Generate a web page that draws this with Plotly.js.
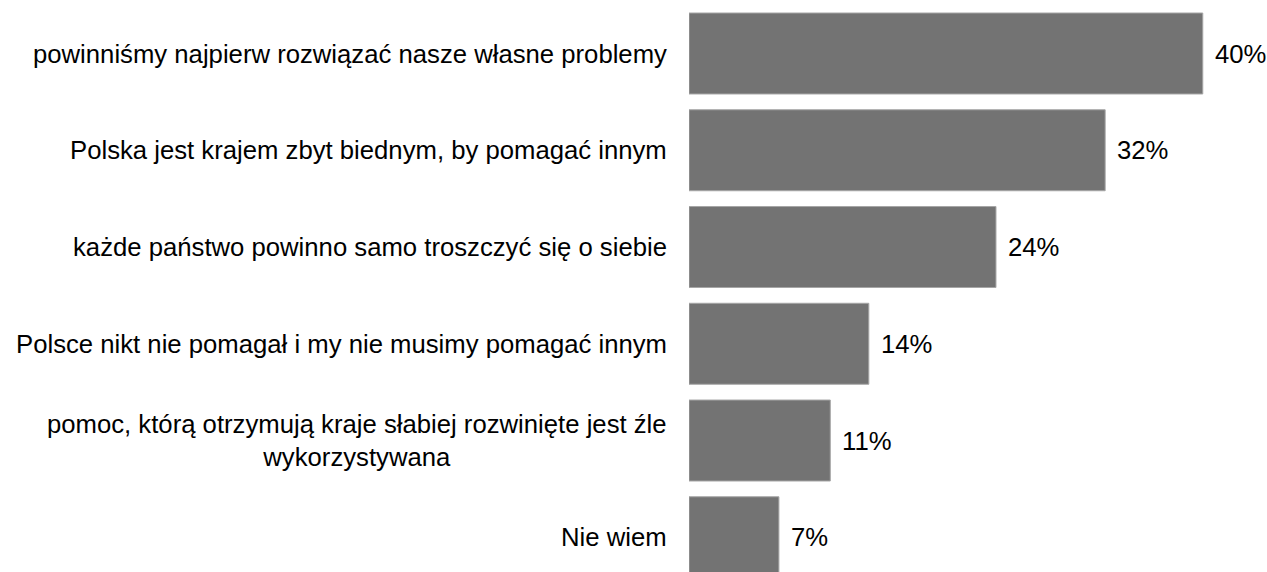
<!DOCTYPE html>
<html>
<head>
<meta charset="utf-8">
<script src="https://cdn.plot.ly/plotly-3.0.1.min.js"></script>
<style>html,body{margin:0;padding:0;background:#fff;}#chart{width:1267px;height:572px;}</style>
</head>
<body>
<div id="chart"></div>
<script>
const categories = [
  "powinniśmy najpierw rozwiązać nasze własne problemy",
  "Polska jest krajem zbyt biednym, by pomagać innym",
  "każde państwo powinno samo troszczyć się o siebie",
  "Polsce nikt nie pomagał i my nie musimy pomagać innym",
  "pomoc, którą otrzymują kraje słabiej rozwinięte jest źle<br>wykorzystywana",
  "Nie wiem"
];
const values = [40, 32.4, 23.9, 14, 11, 7];
const valueLabels = ["40%", "32%", "24%", "14%", "11%", "7%"];

const font = {family: "Liberation Sans, Arial, sans-serif", size: 25.7, color: "#000"};

const annotations = [];
categories.forEach((c, i) => {
  annotations.push({
    xref: "paper", yref: "y", x: 0, y: i,
    text: c, showarrow: false, xanchor: "right", yanchor: "middle",
    align: "center", xshift: -20, font: font
  });
  annotations.push({
    xref: "x", yref: "y", x: values[i], y: i,
    text: valueLabels[i], showarrow: false, xanchor: "left", yanchor: "middle",
    xshift: 10, font: font
  });
});

const trace = {
  type: "bar", orientation: "h",
  x: values, y: categories.map((c, i) => i),
  marker: {color: "#737373", line: {color: "#a6a6a6", width: 1}},
  hoverinfo: "none"
};

const layout = {
  width: 1267, height: 572,
  margin: {l: 689, r: 0, t: 0, b: 0, pad: 0},
  paper_bgcolor: "#fff", plot_bgcolor: "#fff",
  bargap: 0.163,
  showlegend: false,
  xaxis: {range: [0, 45], visible: false, fixedrange: true},
  yaxis: {range: [5.359, -0.553], visible: false, fixedrange: true},
  annotations: annotations,
  font: font
};

Plotly.newPlot("chart", [trace], layout, {displayModeBar: false, staticPlot: true});
</script>
</body>
</html>
